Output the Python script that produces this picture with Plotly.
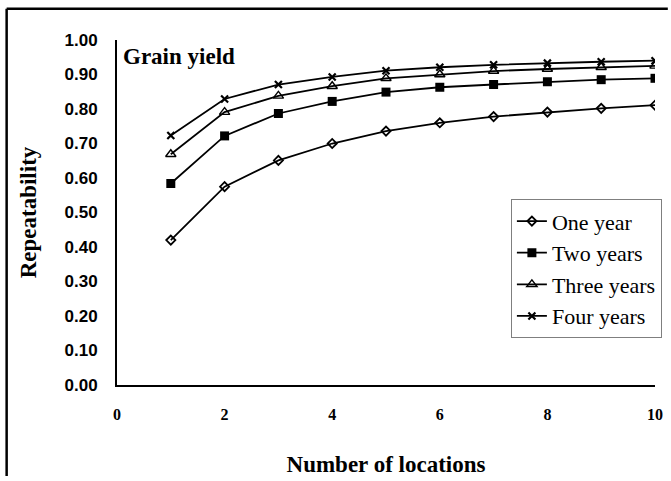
import plotly.graph_objects as go

locations = [1, 2, 3, 4, 5, 6, 7, 8, 9, 10]
one_year = [0.420, 0.575, 0.651, 0.700, 0.736, 0.760, 0.778, 0.791, 0.802, 0.811]
two_years = [0.584, 0.722, 0.787, 0.822, 0.849, 0.863, 0.871, 0.879, 0.885, 0.889]
three_years = [0.669, 0.791, 0.838, 0.866, 0.889, 0.900, 0.910, 0.916, 0.921, 0.925]
four_years = [0.723, 0.829, 0.871, 0.893, 0.911, 0.921, 0.928, 0.933, 0.937, 0.940]
series_names = ["One year", "Two years", "Three years", "Four years"]
y_ticks = [0.0, 0.1, 0.2, 0.3, 0.4, 0.5, 0.6, 0.7, 0.8, 0.9, 1.0]
x_ticks = [0, 2, 4, 6, 8, 10]

W, H = 671, 481
L, R, T, B = 117, 8, 40, 88
pw, ph = W - L - R, H - T - B

fig = go.Figure()
styles = [
    dict(symbol="diamond-open", size=7, color="black", line=dict(width=1.8, color="black")),
    dict(symbol="square", size=9, color="black", line=dict(width=0)),
    dict(symbol="triangle-up-open", size=9, color="black", line=dict(width=1.4, color="black")),
    dict(symbol="x-thin", size=7, color="black", line=dict(width=2.2, color="black")),
]
for name, vals, mk in zip(series_names, [one_year, two_years, three_years, four_years], styles):
    fig.add_trace(go.Scatter(
        x=locations, y=vals, name=name, mode="lines+markers",
        line=dict(color="black", width=1.8), marker=mk,
    ))

def px_x(px):
    return (px - L) / pw

def px_y(py):
    return (H - B - py) / ph

# outer frame (top and left edges of the original figure border)
fig.add_shape(type="line", xref="paper", yref="paper",
              x0=px_x(5), x1=px_x(W + 5), y0=px_y(8), y1=px_y(8),
              line=dict(color="black", width=2.5))
fig.add_shape(type="line", xref="paper", yref="paper",
              x0=px_x(5), x1=px_x(5), y0=px_y(8), y1=px_y(H + 5),
              line=dict(color="black", width=2.5))

fig.add_annotation(text="<b>Grain yield</b>", xref="paper", yref="paper",
                   x=px_x(121), y=px_y(42), xanchor="left", yanchor="top", showarrow=False,
                   font=dict(family="Liberation Serif", size=23, color="black"))

fig.update_layout(
    width=W, height=H,
    margin=dict(l=L, r=R, t=T, b=B),
    paper_bgcolor="white", plot_bgcolor="white",
    showlegend=True,
    legend=dict(x=px_x(670), y=px_y(203), xanchor="right", yanchor="top",
                bordercolor="#7f7f7f", borderwidth=1, bgcolor="white",
                font=dict(family="Liberation Serif", size=22, color="black"),
                itemwidth=30, tracegroupgap=0),
    xaxis=dict(range=[0, 10], tickvals=x_ticks, ticktext=[f"<b>{v}</b>" for v in x_ticks],
               showline=True, linecolor="black", linewidth=1.8, showgrid=False, zeroline=False,
               ticks="", ticklabelstandoff=14,
               tickfont=dict(family="Liberation Serif", size=16, color="black"),
               title=dict(text="<b>Number of locations</b>", standoff=34,
                          font=dict(family="Liberation Serif", size=23, color="black"))),
    yaxis=dict(range=[0, 1], tickvals=y_ticks, ticktext=[f"<b>{v:.2f}</b>" for v in y_ticks],
               showline=True, linecolor="black", linewidth=1.8, showgrid=False, zeroline=False,
               ticks="", ticklabelstandoff=14,
               tickfont=dict(family="Liberation Sans", size=17, color="black"),
               title=dict(text="<b>Repeatability</b>", standoff=22,
                          font=dict(family="Liberation Serif", size=23, color="black"))),
)

fig.write_html("out.html")
